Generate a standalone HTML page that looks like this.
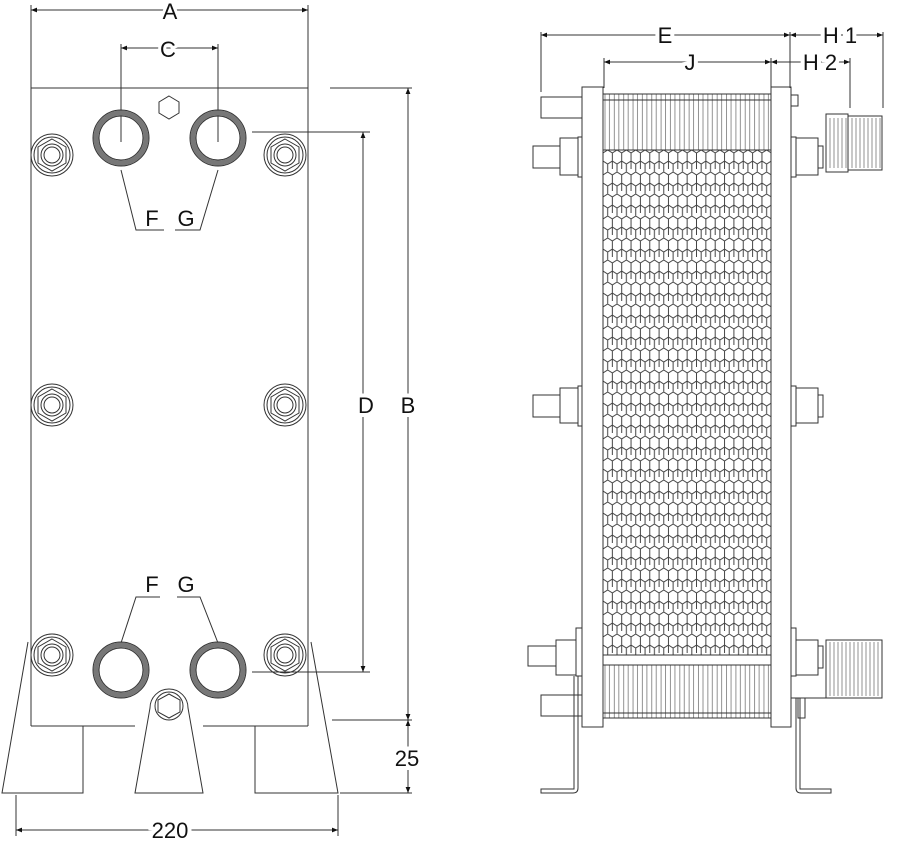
<!DOCTYPE html>
<html><head><meta charset="utf-8"><style>
html,body{margin:0;padding:0;background:#fff;}
svg{display:block}
text{font-family:"Liberation Sans",sans-serif;font-size:22px;fill:#111}
</style></head><body>
<svg width="901" height="841" viewBox="0 0 901 841" xmlns="http://www.w3.org/2000/svg">
<defs>
<marker id="ar" viewBox="0 0 10 10" refX="10" refY="5" markerWidth="12" markerHeight="6" orient="auto-start-reverse" markerUnits="userSpaceOnUse"><path d="M0,1 L10,5 L0,9 z" fill="#111"/></marker>
<pattern id="hex" x="603" y="150" width="9.35" height="22" patternUnits="userSpaceOnUse">
<path d="M4.67,0 L9.35,3 L9.35,11 L4.67,14 L0,11 L0,3 Z M0,11 L0,19 M9.35,11 L9.35,19 M4.67,14 L4.67,22" fill="none" stroke="#444" stroke-width="1"/>
</pattern>
<pattern id="fin" x="603" y="0" width="9.35" height="10" patternUnits="userSpaceOnUse">
<path d="M2,0 V10 M6.5,0 V10" stroke="#777" stroke-width="0.8"/>
</pattern>
<g id="bolt" fill="none" stroke="#333" stroke-width="1">
<circle r="21"/><circle r="18"/><polygon points="0,-16 14,-8 14,8 0,16 -14,8 -14,-8"/><circle r="11"/><circle r="8"/>
</g>
<g id="port" fill="none">
<circle r="25" stroke="#777" stroke-width="5"/><circle r="28" stroke="#333" stroke-width="1"/><circle r="22" stroke="#333" stroke-width="1"/>
</g>
</defs>
<g fill="none" stroke="#333" stroke-width="1">
<line x1="31" y1="5" x2="31" y2="726"/><line x1="308" y1="5" x2="308" y2="726"/>
<line x1="31" y1="88" x2="308" y2="88"/>
<line x1="31" y1="726" x2="135" y2="726"/><line x1="203" y1="726" x2="308" y2="726"/>
<polygon points="169,96 179,102 179,113 169,119 159,113 159,102"/>
<path d="M28,642 L2,793 L83,793 L83,726"/>
<path d="M311,642 L338,793 L255,793 L255,726"/>
<path d="M135,793 L150,708 A19,19 0 1 1 188,708 L203,793 Z"/>
<circle cx="169" cy="706" r="14"/>
<polygon points="169,694 180,700 180,712 169,718 158,712 158,700"/>
<path d="M121,170 L136,230 L164,230"/><path d="M218,170 L200,230 L175,230"/>
<path d="M121,643 L136,597 L160,597"/><path d="M218,643 L200,597 L177,597"/>
<line x1="31" y1="10" x2="308" y2="10" marker-start="url(#ar)" marker-end="url(#ar)"/>
<line x1="121" y1="48" x2="218" y2="48" marker-start="url(#ar)" marker-end="url(#ar)"/>
<line x1="121" y1="44" x2="121" y2="142"/><line x1="218" y1="44" x2="218" y2="142"/>
<line x1="252" y1="132" x2="370" y2="132"/><line x1="252" y1="672" x2="370" y2="672"/>
<line x1="363" y1="132" x2="363" y2="672" marker-start="url(#ar)" marker-end="url(#ar)"/>
<line x1="330" y1="88" x2="412" y2="88"/><line x1="332" y1="720" x2="412" y2="720"/>
<line x1="340" y1="793" x2="412" y2="793"/>
<line x1="408" y1="88" x2="408" y2="720" marker-start="url(#ar)" marker-end="url(#ar)"/>
<line x1="408" y1="720" x2="408" y2="793" marker-start="url(#ar)" marker-end="url(#ar)"/>
<line x1="16" y1="795" x2="16" y2="836"/><line x1="338" y1="795" x2="338" y2="836"/>
<line x1="16" y1="830" x2="338" y2="830" marker-start="url(#ar)" marker-end="url(#ar)"/>
</g>
<use href="#bolt" x="52" y="155"/><use href="#bolt" x="285" y="155"/>
<use href="#bolt" x="52" y="405"/><use href="#bolt" x="285" y="405"/>
<use href="#bolt" x="52" y="655"/><use href="#bolt" x="285" y="655"/>
<use href="#port" x="121" y="138"/><use href="#port" x="218" y="138"/>
<use href="#port" x="121" y="670"/><use href="#port" x="218" y="670"/>
<g text-anchor="middle">
<text x="170" y="19" stroke="#fff" stroke-width="6" style="paint-order:stroke">A</text>
<text x="168" y="57" stroke="#fff" stroke-width="6" style="paint-order:stroke">C</text>
<text x="152" y="226">F</text><text x="186" y="226">G</text>
<text x="152" y="592">F</text><text x="186" y="592">G</text>
<text x="366" y="413" stroke="#fff" stroke-width="8" style="paint-order:stroke">D</text>
<text x="408" y="413" stroke="#fff" stroke-width="8" style="paint-order:stroke">B</text>
<text x="407" y="766" stroke="#fff" stroke-width="8" style="paint-order:stroke">25</text>
<text x="170" y="838" stroke="#fff" stroke-width="8" style="paint-order:stroke">220</text>
</g>

<rect x="603" y="94" width="168" height="56" fill="url(#fin)"/>
<rect x="603" y="150" width="168" height="505" fill="url(#hex)"/>
<rect x="603" y="665" width="168" height="53" fill="url(#fin)"/>
<g fill="none" stroke="#333" stroke-width="1">
<rect x="603" y="150" width="168" height="505"/>
<line x1="603" y1="94" x2="771" y2="94"/><line x1="603" y1="100" x2="771" y2="100"/>
<line x1="603" y1="655" x2="771" y2="655"/><line x1="603" y1="665" x2="771" y2="665"/>
<line x1="603" y1="713" x2="771" y2="713"/><line x1="603" y1="718" x2="771" y2="718"/>
<rect x="582" y="87" width="21" height="640" fill="#fff"/>
<rect x="771" y="87" width="20" height="640" fill="#fff"/>
<rect x="541" y="97" width="41" height="21"/>
<rect x="541" y="695" width="41" height="21"/>
<rect x="578" y="137" width="4" height="40"/><rect x="560" y="138" width="18" height="37"/><rect x="533" y="146" width="27" height="22"/>
<rect x="578" y="386" width="4" height="40"/><rect x="560" y="388" width="18" height="35"/><rect x="533" y="395" width="27" height="22"/>
<rect x="576" y="628" width="6" height="48"/><rect x="556" y="640" width="20" height="35"/><rect x="528" y="646" width="28" height="20"/>
<path d="M578,676 L578,788 Q578,793 573,793 L541,793 L541,789 L574,789 L574,676"/>
<rect x="791" y="95" width="7" height="11"/>
<rect x="791" y="137" width="5" height="40"/><rect x="796" y="138" width="22" height="37"/><rect x="818" y="146" width="5" height="22"/>
<rect x="791" y="386" width="5" height="40"/><rect x="796" y="388" width="22" height="35"/><rect x="818" y="395" width="5" height="22"/>
<rect x="791" y="628" width="5" height="48"/><rect x="796" y="640" width="22" height="35"/><rect x="818" y="646" width="5" height="22"/>
<rect x="826" y="114" width="22" height="58"/><rect x="848" y="116" width="34" height="54"/>
<rect x="826" y="640" width="56" height="58"/>
<line x1="791" y1="698" x2="882" y2="698"/>
<rect x="798" y="698" width="7" height="20"/>
<path d="M796,698 L796,788 Q796,793 801,793 L831,793 L831,789 L800,789 L800,698"/>
<line x1="541" y1="35" x2="790" y2="35" marker-start="url(#ar)" marker-end="url(#ar)"/>
<line x1="790" y1="35" x2="883" y2="35" marker-start="url(#ar)" marker-end="url(#ar)"/>
<line x1="604" y1="62" x2="771" y2="62" marker-start="url(#ar)" marker-end="url(#ar)"/>
<line x1="771" y1="62" x2="850" y2="62" marker-start="url(#ar)" marker-end="url(#ar)"/>
<line x1="541" y1="32" x2="541" y2="92"/><line x1="604" y1="58" x2="604" y2="88"/>
<line x1="771" y1="58" x2="771" y2="88"/><line x1="790" y1="32" x2="790" y2="88"/>
<line x1="850" y1="58" x2="850" y2="108"/><line x1="883" y1="32" x2="883" y2="108"/>
</g>
<g fill="none" stroke="#777" stroke-width="0.8">
<path d="M830,118V168M834,118V168M838,118V168M842,118V168M846,118V168"/>
<path d="M852,118V168M856,118V168M860,118V168M864,118V168M868,118V168M872,118V168M876,118V168M880,118V168"/>
<path d="M830,642V696M834,642V696M838,642V696M842,642V696M846,642V696M850,642V696M854,642V696M858,642V696M862,642V696M866,642V696M870,642V696M874,642V696M878,642V696"/>
</g>
<g text-anchor="middle" stroke="#fff" stroke-width="8" style="paint-order:stroke">
<text x="665" y="43">E</text><text x="690" y="70">J</text>
<text x="840" y="43">H 1</text><text x="820" y="70">H 2</text>
</g>
</svg>
</body></html>
